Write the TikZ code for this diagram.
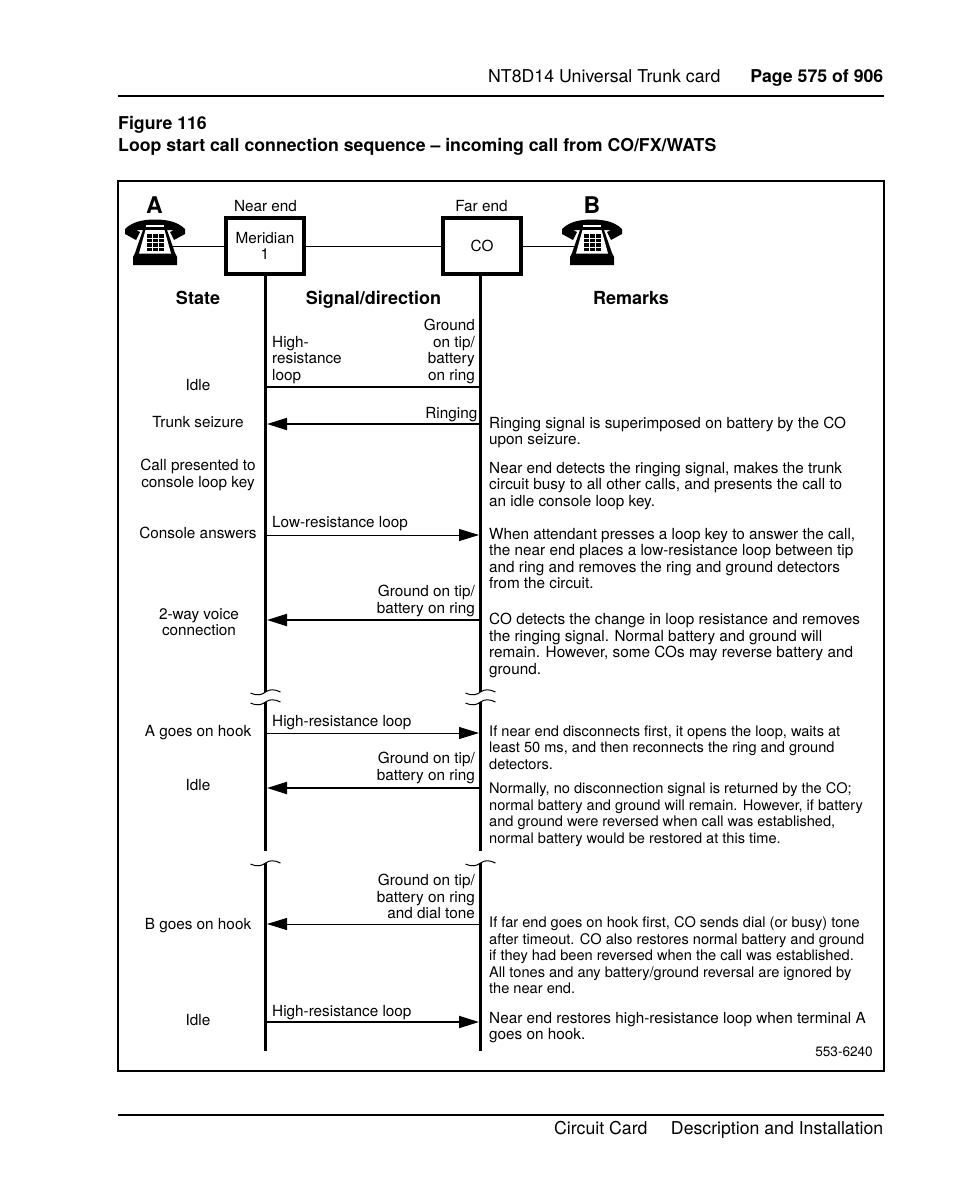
\documentclass[tikz,border=0pt]{standalone}
\usepackage{fontspec}
\setmainfont{TeX Gyre Heros}
\usetikzlibrary{arrows.meta}
\newcommand{\bodyfont}{\fontsize{15.3}{16.5}\selectfont}
\newcommand{\tightfont}{\fontsize{14.6}{16.5}\selectfont}
\newcommand{\headfont}{\fontsize{17.7}{22}\selectfont}
\tikzset{
  txt/.style={inner sep=0pt,font=\bodyfont},
  state/.style={txt,align=center,anchor=north},
  sigl/.style={txt,align=left,anchor=north west},
  sigr/.style={txt,align=right,anchor=north east},
  remark/.style={txt,align=left,anchor=north west},
  remarkt/.style={remark,font=\tightfont},
  head/.style={inner sep=0pt,font=\headfont},
  colhead/.style={inner sep=0pt,anchor=base,font=\fontsize{18}{20}\selectfont\bfseries},
  endbox/.style={draw,line width=4pt,minimum width=78pt,minimum height=56pt,inner sep=0pt,align=center,font=\bodyfont},
  life/.style={line width=3pt},
  wave/.style={line width=1pt},
  wire/.style={line width=0.8pt},
  msg/.style={-{Triangle[length=20pt,width=12pt]},line width=1pt},
  msgb/.style={-{Triangle[length=20pt,width=12pt]},line width=2pt},
  phone/.pic={
    \fill (-30,-14) .. controls (-22,-22) and (-10,-23.5) .. (0,-23.5) .. controls (10,-23.5) and (22,-22) .. (30,-14)
      -- (30,-9) -- (19,-3) -- (15,-11) -- (19,-13) -- (-19,-13) -- (-15,-11) -- (-19,-3) -- (-30,-9) -- cycle;
    \fill[white] (-9,-18.5) rectangle (9,-16);
    \fill (-11,-16) -- (11,-16) -- (20,10) -- (22,14) -- (22,22) -- (-22,22) -- (-22,14) -- (-20,10) -- cycle;
    \fill[white] (-9.5,-13) -- (9.5,-13) -- (16,10.5) -- (-16,10.5) -- cycle;
    \foreach \i in {0,1,2}
      \foreach \j in {0,1,2,3}
        \fill ({-8.5+\i*6.2},{-9+\j*4.6}) rectangle ++(5.2,3.5);
  },
  gap/.pic={
    \draw[wave] (-15,1) .. controls (-8,4) and (-4,3) .. (0,0) .. controls (4,-3) and (9,-3) .. (15,0);
  },
}
\begin{document}
\begin{tikzpicture}[x=1pt,y=-1pt]
  \useasboundingbox (0,0) rectangle (954,1202);

  % page header
  \node[head,anchor=base west] (title) at (488,82){NT8D14 Universal Trunk card};
  \node[head,anchor=base east,font=\headfont\bfseries] (page) at (883.5,82){Page 575 of 906};
  \draw[line width=1.5pt] (118,96) -- (883.5,96);
  \node[head,anchor=base west,font=\headfont\bfseries] (fig) at (118,129){Figure 116};
  \node[head,anchor=base west,font=\headfont\bfseries] (figtitle) at (118,151){Loop start call connection sequence -- incoming call from CO/FX/WATS};

  % frame
  \draw[line width=1.5pt] (118,181) rectangle (884,1071);

  % ends of the line
  \coordinate (phoneAe) at (172,246);
  \coordinate (phoneBw) at (575,246);
  \node[endbox] (near) at (265,246){Meridian\\1};
  \node[endbox] (far) at (482,246){CO};
  \node[inner sep=0pt,minimum width=60pt,minimum height=46pt] (phoneA) at (155,243){};
  \node[inner sep=0pt,minimum width=60pt,minimum height=46pt] (phoneB) at (592,243){};
  \draw[wire] (phoneAe) -- (near.west |- phoneAe);
  \draw[wire] (near.east |- phoneAe) -- (far.west |- phoneAe);
  \draw[wire] (far.east |- phoneAe) -- (phoneBw);
  \pic at (phoneA) {phone};
  \pic at (phoneB) {phone};
  \node[inner sep=0pt,font=\fontsize{23}{23}\selectfont\bfseries] (labA) at (154.5,205){A};
  \node[inner sep=0pt,font=\fontsize{23}{23}\selectfont\bfseries] (labB) at (592,205){B};
  \node[txt] (nearlab) at (265.5,206){Near end};
  \node[txt] (farlab) at (481.5,206){Far end};

  \node[colhead] (colstate) at (198,304){State};
  \node[colhead] (colsignal) at (373.5,304){Signal/direction};
  \node[colhead] (colremark) at (631,304){Remarks};

  % life lines, broken twice
  \foreach \s/\a/\b in {a/692/702,b/851/863}{
    \coordinate (L\s t) at (265.5,\a);
    \coordinate (L\s b) at (265.5,\b);
    \coordinate (R\s t) at (480.5,\a);
    \coordinate (R\s b) at (480.5,\b);
  }
  \coordinate (Lend) at (265.5,1051);
  \coordinate (Rend) at (480.5,1051);
  \draw[life] (near.south -| Lat) -- (Lat);
  \draw[life] (far.south -| Rat) -- (Rat);
  \draw[life] (Lab) -- (Lbt);
  \draw[life] (Rab) -- (Rbt);
  \draw[life] (Lbb) -- (Lend);
  \draw[life] (Rbb) -- (Rend);
  \pic at (Lat) {gap};
  \pic at (Lab) {gap};
  \pic at (Rat) {gap};
  \pic at (Rab) {gap};
  \pic at (Lbb) {gap};
  \pic at (Rbb) {gap};

  % messages
  \foreach \n/\y in {1/387,2/424,3/535,4/620,5/733,6/788,7/924,8/1022}{
    \coordinate (L\n) at (267,\y);
    \coordinate (R\n) at (479,\y);
  }
  \draw[line width=2pt] (L1) -- (R1);
  \draw[msgb] (R2) -- (L2);
  \draw[msg] (L3) -- (R3);
  \draw[msgb] (R4) -- (L4);
  \draw[msg] (L5) -- (R5);
  \draw[msgb] (R6) -- (L6);
  \draw[msg] (R7) -- (L7);
  \draw[msgb] (L8) -- (R8);

  % states
  \node[state] (s1) at (198,379){Idle};
  \node[state] (s2) at (198,416){Trunk seizure};
  \node[state] (s3) at (198,459){Call presented to\\console loop key};
  \node[state] (s4) at (198,527){Console answers};
  \node[state] (s5) at (199,608){2-way voice\\connection};
  \node[state] (s6) at (198,725){A goes on hook};
  \node[state] (s7) at (198,779){Idle};
  \node[state] (s8) at (198,918){B goes on hook};
  \node[state] (s9) at (198,1014){Idle};

  % signals
  \node[sigl] (g1) at (272,336){High-\\resistance\\loop};
  \node[sigr] (g2) at (475,319){Ground\\on tip/\\battery\\on ring};
  \node[sigr] (g3) at (477.5,407){Ringing};
  \node[sigl] (g4) at (272,516){Low-resistance loop};
  \node[sigr] (g5) at (475,585){Ground on tip/\\battery on ring};
  \node[sigl] (g6) at (272,715){High-resistance loop};
  \node[sigr] (g7) at (475,752){Ground on tip/\\battery on ring};
  \node[sigr] (g8) at (475,874){Ground on tip/\\battery on ring\\and dial tone};
  \node[sigl] (g9) at (272,1005){High-resistance loop};

  % remarks
  \node[remark] (r1) at (489,416.6){Ringing signal is superimposed on battery by the CO\\upon seizure.};
  \node[remark] (r2) at (489,462){Near end detects the ringing signal, makes the trunk\\circuit busy to all other calls, and presents the call to\\an idle console loop key.};
  \node[remark] (r3) at (489,528){When attendant presses a loop key to answer the call,\\the near end places a low-resistance loop between tip\\and ring and removes the ring and ground detectors\\from the circuit.};
  \node[remark] (r4) at (489,613){CO detects the change in loop resistance and removes\\the ringing signal. Normal battery and ground will\\remain. However, some COs may reverse battery and\\ground.};
  \node[remarkt] (r5) at (489,725.4){If near end disconnects first, it opens the loop, waits at\\least 50 ms, and then reconnects the ring and ground\\detectors.};
  \node[remarkt] (r6) at (489,782.4){Normally, no disconnection signal is returned by the CO;\\normal battery and ground will remain. However, if battery\\and ground were reversed when call was established,\\normal battery would be restored at this time.};
  \node[remarkt] (r7) at (489,916.4){If far end goes on hook first, CO sends dial (or busy) tone\\after timeout. CO also restores normal battery and ground\\if they had been reversed when the call was established.\\All tones and any battery/ground reversal are ignored by\\the near end.};
  \node[remark] (r8) at (489,1012){Near end restores high-resistance loop when terminal A\\goes on hook.};
  \node[inner sep=0pt,anchor=east,font=\fontsize{13.6}{14}\selectfont] (code) at (873,1052){553-6240};

  % page footer
  \draw[line width=1.5pt] (118,1115) -- (883.5,1115);
  \node[head,anchor=base west] (foot1) at (554,1134){Circuit Card};
  \node[head,anchor=base east] (foot2) at (883.5,1134){Description and Installation};
\end{tikzpicture}
\end{document}
